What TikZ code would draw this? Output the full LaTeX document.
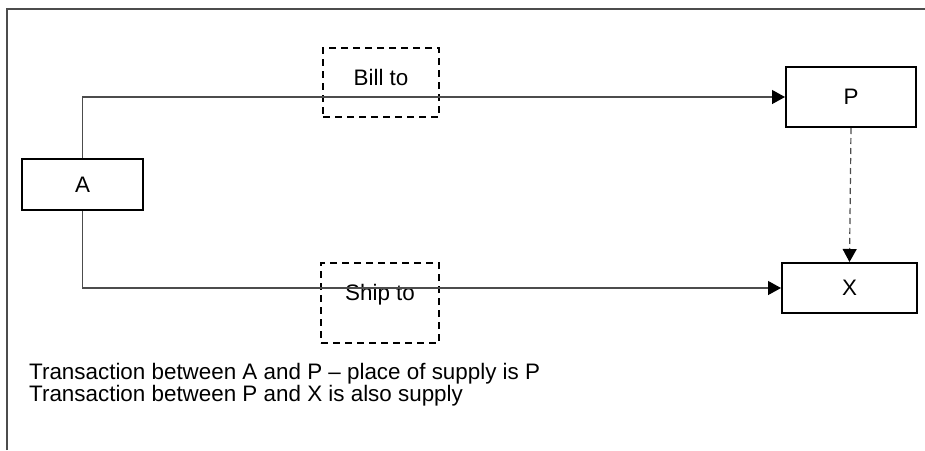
\documentclass[tikz,border=0pt]{standalone}
\usepackage{fontspec}
\setmainfont{Liberation Sans}
\usetikzlibrary{arrows.meta}

\begin{document}
\begin{tikzpicture}[
    x=1pt, y=-1pt,
    knoten/.style={
      rectangle,
      draw=black,
      line width=2pt,
      minimum width=121pt,
      minimum height=51pt,
      font=\fontsize{22.4}{27}\selectfont},
    kasten/.style={
      rectangle,
      draw=black,
      line width=1.8pt,
      dash pattern=on 7pt off 5pt,
      minimum width=116pt,
      minimum height=69pt},
    schrift/.style={
      font=\fontsize{22.4}{27}\selectfont,
      inner sep=0pt},
    linie/.style={draw=black!70, line width=1.2pt},
    pfeil/.style={-{Triangle[length=13pt,width=14pt,color=black]}, draw=black!70, line width=1.2pt}
    ]

  \useasboundingbox (0,0) rectangle (925,450);
  \draw [linie] (7,450) -- (7,9) -- (925,9);

  \node at (82.5,184.5) (knotenA) [knoten] {A};
  \node at (851,97) (knotenP) [knoten, minimum width=130pt, minimum height=60pt] {P};
  \node at (849.5,288) (knotenX) [knoten, minimum width=135pt, minimum height=50pt] {X};

  \node at (381,82.5) (kastenBill) [kasten] {};
  \node at (381,85) (textBill) [schrift, anchor=base] {Bill to};
  \node at (380,303) (kastenShip) [kasten, minimum width=118pt, minimum height=80pt] {};
  \node at (380,300) (textShip) [schrift, anchor=base] {Ship to};

  \draw [pfeil] (knotenA.north) |- (knotenP.west);
  \draw [pfeil] (knotenA.south) |- (knotenX.west);
  \draw [pfeil, dash pattern=on 6pt off 4pt] (knotenP.south) -- (knotenX.north);

  \node at (29,379) (zeile1) [schrift, anchor=base west] {Transaction between A and P -- place of supply is P};
  \node at (29,401.7) (zeile2) [schrift, anchor=base west] {Transaction between P and X is also supply};

\end{tikzpicture}
\end{document}
